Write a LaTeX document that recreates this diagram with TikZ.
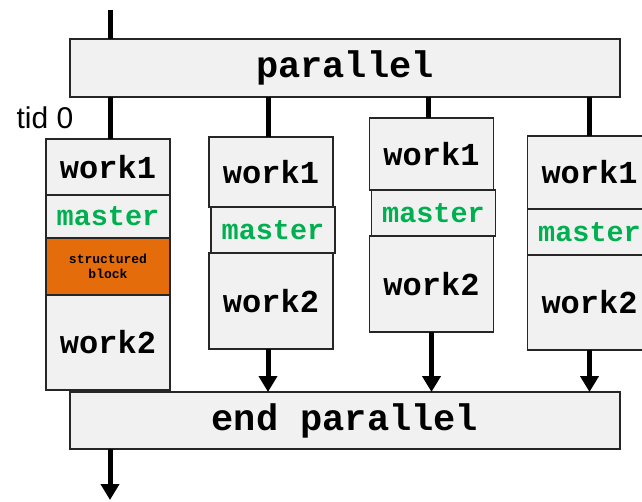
\documentclass[tikz,border=0pt]{standalone}
\usepackage{fontspec}
\setmonofont{Liberation Mono}
\setsansfont{Liberation Sans}
\usetikzlibrary{arrows.meta,positioning}
\definecolor{boxfill}{HTML}{F1F1F1}
\definecolor{boxline}{HTML}{262626}
\definecolor{mastergreen}{HTML}{00B050}
\definecolor{sborange}{HTML}{E46C0A}

\begin{document}
\begin{tikzpicture}[
    x=1pt, y=-1pt,
    node distance=0pt,
    region/.style={draw=boxline, fill=boxfill, line width=1.8pt, outer sep=0pt, inner sep=0pt, minimum width=550pt, minimum height=58pt, font=\ttfamily\bfseries\fontsize{37}{37}\selectfont},
    block/.style={draw=boxline, fill=boxfill, line width=1.8pt, outer sep=0pt, inner sep=0pt, minimum width=124pt, font=\ttfamily\bfseries\fontsize{32}{32}\selectfont},
    masterblock/.style={block, text=mastergreen, minimum height=46pt, font=\ttfamily\bfseries\fontsize{28.5}{28.5}\selectfont},
    sblock/.style={block, fill=sborange, align=center, font=\ttfamily\bfseries\fontsize{13}{15}\selectfont},
    thread/.style={line width=5pt},
    arrow/.style={line width=5pt, -{Triangle[length=16pt,width=18pt]}}
]
\useasboundingbox (0,0) rectangle (642,502);
\clip (0,0) rectangle (642,502);

% fork and join
\node[region] (par) at (345,68) {parallel};
\node[region, minimum height=57pt] (endpar) at (345,420.5) {end parallel};
\coordinate (start) at (110,10);
\coordinate (finish) at (110,500);

% thread 0
\node[block, minimum height=56pt, anchor=north] (w1a) at (108,139) {work1};
\node[masterblock, minimum height=43pt, below=of w1a] (ma) {master};
\node[sblock, minimum height=57pt, below=of ma] (sb) {structured\\block};
\node[block, minimum height=95pt, below=of sb] (w2a) {work2};
\node[font=\sffamily\fontsize{30}{30}\selectfont, anchor=center] (tid) at (45,118) {tid 0};

% thread 1
\node[block, minimum height=70pt, anchor=north] (w1b) at (271,137) {work1};
\node[masterblock, below=of w1b, xshift=2pt] (mb) {master};
\node[block, minimum height=96pt, below=of mb, xshift=-2pt] (w2b) {work2};

% thread 2
\node[block, minimum height=72pt, anchor=north] (w1c) at (431.5,118) {work1};
\node[masterblock, below=of w1c, xshift=2pt] (mc) {master};
\node[block, minimum height=96pt, below=of mc, xshift=-2pt] (w2c) {work2};

% thread 3
\node[block, minimum height=73pt, anchor=north] (w1d) at (589.5,136) {work1};
\node[masterblock, below=of w1d] (md) {master};
\node[block, minimum height=95pt, below=of md] (w2d) {work2};

% connectors
\draw[thread] (start) -- (start |- par.north);
\draw[thread] ([xshift=2pt]w1a.north |- par.south) -- ([xshift=2pt]w1a.north);
\draw[thread] ([xshift=-3pt]w1b.north |- par.south) -- ([xshift=-3pt]w1b.north);
\draw[thread] ([xshift=-3pt]w1c.north |- par.south) -- ([xshift=-3pt]w1c.north);
\draw[thread] (w1d.north |- par.south) -- (w1d.north);
\draw[arrow] ([xshift=-3pt]w2b.south) -- ([xshift=-3pt]w2b.south |- endpar.north);
\draw[arrow] (w2c.south) -- (w2c.south |- endpar.north);
\draw[arrow] (w2d.south) -- (w2d.south |- endpar.north);
\draw[arrow] (finish |- endpar.south) -- (finish);

\end{tikzpicture}
\end{document}
